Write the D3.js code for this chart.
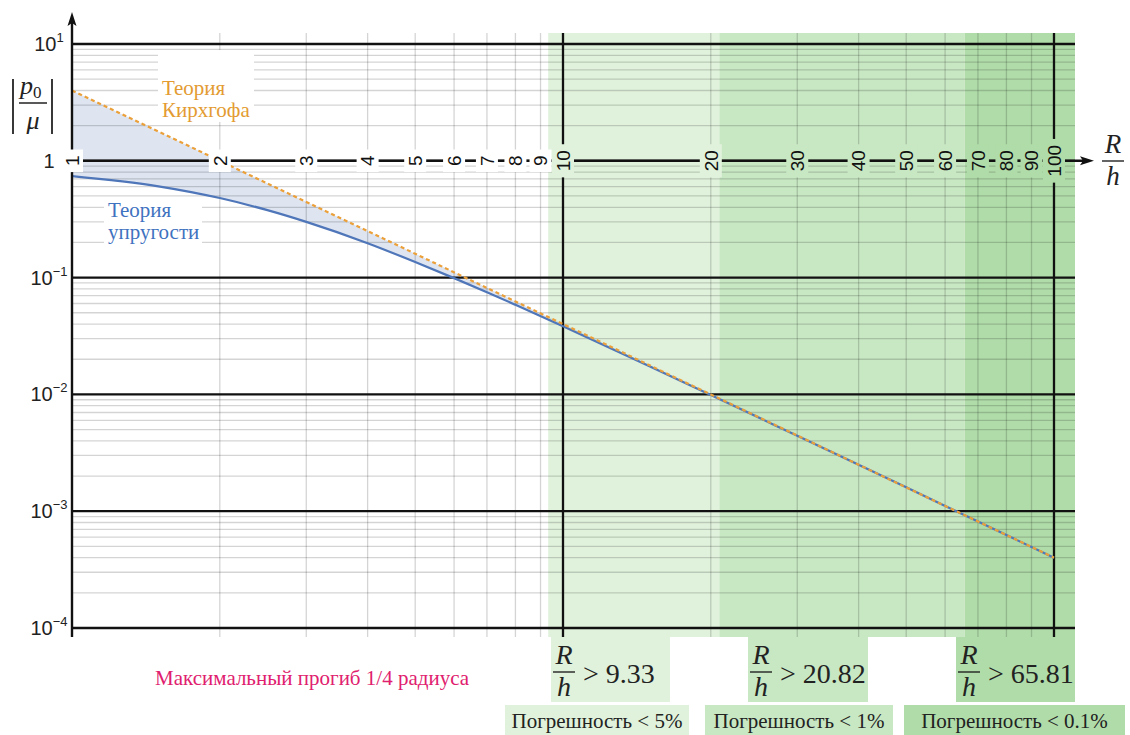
<!DOCTYPE html>
<html>
<head>
<meta charset="utf-8">
<script src="https://cdn.jsdelivr.net/npm/d3@7"></script>
<style>
body{margin:0;background:#fff;}
svg{display:block;}
</style>
</head>
<body>
<div id="chart"></div>
<script>
// values: R/h and |p0/mu|
var ratio = [1, 1.5, 2, 2.5, 3, 4, 5, 6, 7, 8, 10, 15, 20, 30, 50, 70, 100];
var elastic = [0.74, 0.605, 0.48, 0.378, 0.30, 0.197, 0.136, 0.099, 0.075, 0.0585, 0.0383, 0.01744, 0.00989, 0.00442, 0.0016, 0.000815, 0.0004];
var kirchRatio = [1, 2, 5, 10, 20, 50, 100];
var kirchhoff = [4, 1, 0.16, 0.04, 0.01, 0.0016, 0.0004];

var xTickValues = [1, 2, 3, 4, 5, 6, 7, 8, 9, 10, 20, 30, 40, 50, 60, 70, 80, 90, 100];
var yTickValues = [10, 1, 0.1, 0.01, 0.001, 0.0001];
var yTickExp = ["1", "", "\u22121", "\u22122", "\u22123", "\u22124"];

var limits = [9.33, 20.82, 65.81];
var limitLabels = ["9.33", "20.82", "65.81"];
var errorLabels = ["Погрешность < 5%", "Погрешность < 1%", "Погрешность < 0.1%"];

(function(){
    var W = 1130, H = 735;
    var left = 72, right = 1075, top = 33, bottom = 637;
    var zoneColors = ['#e0f2dc', '#c8e7c3', '#b0dca9'];
    var sans = '"Liberation Sans", Arial, Helvetica, sans-serif';

    // find a serif face that is really installed
    function pickFont(cands){
	var ctx = document.createElement('canvas').getContext('2d');
	var s = 'Погрешность Rh 0.123 mwiI';
	ctx.font = '40px monospace';
	var base = ctx.measureText(s).width;
	for (var i = 0; i < cands.length; i++){
	    ctx.font = '40px "' + cands[i] + '", monospace';
	    if (Math.abs(ctx.measureText(s).width - base) > 0.5) return '"' + cands[i] + '", serif';
	}
	return 'serif';
    }
    var serif = pickFont(['Liberation Serif', 'Times New Roman', 'Tinos', 'DejaVu Serif', 'Noto Serif', 'FreeSerif', 'Nimbus Roman', 'Nimbus Roman No9 L']);

    var svg = d3.select('#chart').append('svg')
	.attr('width', W).attr('height', H)
	.style('font-family', sans);

    var x = d3.scaleLog().domain([1, 100]).range([72, 1054]);
    var y = d3.scaleLog().domain([1e-4, 10]).range([628, 44]);
    var axisY = y(1);

    function isDecade(v){ var l = Math.log10(v); return Math.abs(l - Math.round(l)) < 1e-6; }
    function bgAt(px){
	var c = '#fff';
	limits.forEach(function(l, i){ if (px >= x(l) - 0.5) c = zoneColors[i]; });
	return c;
    }

    // error zones
    svg.append('g').selectAll('rect')
	.data(limits)
	.enter().append('rect')
	.attr('x', function(d){ return x(d); })
	.attr('width', function(d, i){ return (i < limits.length - 1 ? x(limits[i + 1]) : right) - x(d); })
	.attr('y', top).attr('height', bottom - top)
	.attr('fill', function(d, i){ return zoneColors[i]; });

    // shaded gap between the two theories
    var defs = svg.append('defs');
    defs.append('clipPath').attr('id', 'aboveElastic').append('path')
	.attr('d', d3.area()
	      .x(function(d){ return x(d); })
	      .y0(top)
	      .y1(function(d, i){ return y(elastic[i]); })
	      .curve(d3.curveMonotoneX)(ratio));
    svg.append('path')
	.attr('clip-path', 'url(#aboveElastic)')
	.attr('fill', 'rgba(70,110,180,0.18)')
	.attr('d', d3.area()
	      .x(function(d){ return x(d); })
	      .y0(bottom)
	      .y1(function(d, i){ return y(kirchhoff[i]); })(kirchRatio));

    // grid
    var grid = svg.append('g');
    var xMinor = x.ticks().filter(function(v){ return !isDecade(v); });
    var yMinor = y.ticks().filter(function(v){ return !isDecade(v); });
    grid.selectAll('.xminor').data(xMinor).enter().append('line')
	.attr('x1', function(d){ return x(d); }).attr('x2', function(d){ return x(d); })
	.attr('y1', top).attr('y2', bottom)
	.attr('stroke', 'rgba(0,0,0,0.17)').attr('stroke-width', 1.3);
    grid.selectAll('.yminor').data(yMinor).enter().append('line')
	.attr('x1', left).attr('x2', right)
	.attr('y1', function(d){ return y(d); }).attr('y2', function(d){ return y(d); })
	.attr('stroke', 'rgba(0,0,0,0.17)').attr('stroke-width', 1.3);
    grid.selectAll('.ymajor').data(yTickValues).enter().append('line')
	.attr('x1', left).attr('x2', right)
	.attr('y1', function(d){ return y(d); }).attr('y2', function(d){ return y(d); })
	.attr('stroke', '#111').attr('stroke-width', 2.3);
    grid.selectAll('.xmajor').data([10, 100]).enter().append('line')
	.attr('x1', function(d){ return x(d); }).attr('x2', function(d){ return x(d); })
	.attr('y1', top).attr('y2', 641)
	.attr('stroke', '#111').attr('stroke-width', 2.3);

    // curve labels (with white backing)
    function curveLabel(lines, px, py, color, box){
	svg.append('rect').attr('x', box[0]).attr('y', box[1])
	    .attr('width', box[2]).attr('height', box[3]).attr('fill', '#fff');
	var t = svg.append('text').style('font-family', serif).style('font-size', '21px')
	    .attr('fill', color);
	lines.forEach(function(s, i){
	    t.append('tspan').attr('x', px).attr('y', py + i * 22).text(s);
	});
    }
    curveLabel(['Теория', 'Кирхгофа'], 162, 95, '#e39b32', [158, 50, 96, 72]);
    curveLabel(['Теория', 'упругости'], 108, 217, '#3f72c0', [104, 198, 98, 48]);

    // curves
    svg.append('path')
	.attr('fill', 'none').attr('stroke', '#4f76b9').attr('stroke-width', 2.2)
	.attr('d', d3.line()
	      .x(function(d){ return x(d); })
	      .y(function(d, i){ return y(elastic[i]); })
	      .curve(d3.curveMonotoneX)(ratio));
    svg.append('path')
	.attr('fill', 'none').attr('stroke', '#eba03a').attr('stroke-width', 2.2)
	.attr('stroke-dasharray', '4,3')
	.attr('d', d3.line()
	      .x(function(d){ return x(d); })
	      .y(function(d, i){ return y(kirchhoff[i]); })(kirchRatio));

    // axes
    svg.append('line').attr('x1', left).attr('x2', 1086).attr('y1', axisY).attr('y2', axisY)
	.attr('stroke', '#111').attr('stroke-width', 2.4);
    svg.append('path').attr('d', 'M1094,' + axisY + 'L1080,' + (axisY - 4.5) + 'L1083,' + axisY + 'L1080,' + (axisY + 4.5) + 'Z')
	.attr('fill', '#111');
    svg.append('line').attr('x1', left).attr('x2', left).attr('y1', bottom).attr('y2', 22)
	.attr('stroke', '#111').attr('stroke-width', 2.4);
    svg.append('path').attr('d', 'M' + left + ',12L' + (left - 4.5) + ',26L' + left + ',23L' + (left + 4.5) + ',26Z')
	.attr('fill', '#111');

    // x tick labels sitting on the axis, with knock-out behind them
    var xl = svg.append('g').selectAll('g')
	.data(xTickValues)
	.enter().append('g')
	.attr('transform', function(d){ return 'translate(' + x(d) + ',' + axisY + ') rotate(-90)'; });
    xl.append('rect');
    xl.append('text')
	.attr('text-anchor', 'middle').attr('dy', '0.36em')
	.style('font-size', '19px').attr('fill', '#111')
	.text(function(d){ return d; });
    xl.each(function(d){
	var g = d3.select(this);
	var len = g.select('text').node().getComputedTextLength();
	g.select('rect')
	    .attr('x', -len / 2 - 6).attr('width', len + 12)
	    .attr('y', -11).attr('height', 22)
	    .attr('fill', bgAt(x(d)));
    });

    // y tick labels
    var yl = svg.append('g').selectAll('text')
	.data(yTickValues)
	.enter().append('text')
	.attr('x', 49).attr('y', function(d){ return y(d) + 7; })
	.attr('text-anchor', 'middle').style('font-size', '20px').attr('fill', '#222');
    yl.each(function(d, i){
	var t = d3.select(this);
	if (yTickExp[i] === '') { t.text('1'); return; }
	t.append('tspan').text('10');
	t.append('tspan').style('font-size', '13px').attr('dy', -9).text(yTickExp[i]);
    });

    // axis titles
    var yt = svg.append('g').style('font-family', serif).attr('fill', '#222');
    yt.append('line').attr('x1', 13).attr('x2', 13).attr('y1', 79).attr('y2', 134).attr('stroke', '#222').attr('stroke-width', 1.8);
    yt.append('line').attr('x1', 52).attr('x2', 52).attr('y1', 79).attr('y2', 134).attr('stroke', '#222').attr('stroke-width', 1.8);
    yt.append('line').attr('x1', 19).attr('x2', 47).attr('y1', 103).attr('y2', 103).attr('stroke', '#222').attr('stroke-width', 1.5);
    var pt = yt.append('text').attr('x', 20).attr('y', 94).style('font-size', '26px');
    pt.append('tspan').style('font-style', 'italic').text('p');
    pt.append('tspan').style('font-size', '17px').attr('dy', 4).text('0');
    yt.append('text').attr('x', 33).attr('y', 129).attr('text-anchor', 'middle')
	.style('font-size', '26px').style('font-style', 'italic').text('μ');

    function fraction(g, cx, yLine, size){
	g.append('text').attr('x', cx).attr('y', yLine - 8).attr('text-anchor', 'middle')
	    .style('font-size', size + 'px').style('font-style', 'italic').text('R');
	g.append('line').attr('x1', cx - 11).attr('x2', cx + 11).attr('y1', yLine).attr('y2', yLine)
	    .attr('stroke', '#222').attr('stroke-width', 1.4);
	g.append('text').attr('x', cx).attr('y', yLine + 24).attr('text-anchor', 'middle')
	    .style('font-size', size + 'px').style('font-style', 'italic').text('h');
    }
    var xt = svg.append('g').style('font-family', serif).attr('fill', '#222');
    fraction(xt, 1113, 161, 27);

    // annotation boxes under the plot
    var boxLeft = [551, 748, 956], boxWidth = [119, 120, 119];
    var errLeft = [505, 705, 904], errWidth = [184, 188, 221];
    var ann = svg.append('g').style('font-family', serif).attr('fill', '#222');
    limits.forEach(function(l, i){
	ann.append('rect').attr('x', boxLeft[i]).attr('y', bottom).attr('width', boxWidth[i]).attr('height', 65)
	    .attr('fill', zoneColors[i]);
	fraction(ann, boxLeft[i] + 13, 672, 28);
	ann.append('text').attr('x', boxLeft[i] + 32).attr('y', 683).style('font-size', '28px')
	    .text('> ' + limitLabels[i]);
	ann.append('rect').attr('x', errLeft[i]).attr('y', 705).attr('width', errWidth[i]).attr('height', 30)
	    .attr('fill', zoneColors[i]);
	ann.append('text').attr('x', errLeft[i] + errWidth[i] / 2).attr('y', 728).attr('text-anchor', 'middle')
	    .style('font-size', '21px').text(errorLabels[i]);
    });

    svg.append('text').attr('x', 155).attr('y', 685)
	.style('font-family', serif).style('font-size', '21px').attr('fill', '#e0206e')
	.text('Максимальный прогиб 1/4 радиуса');
})();
</script>
</body>
</html>
